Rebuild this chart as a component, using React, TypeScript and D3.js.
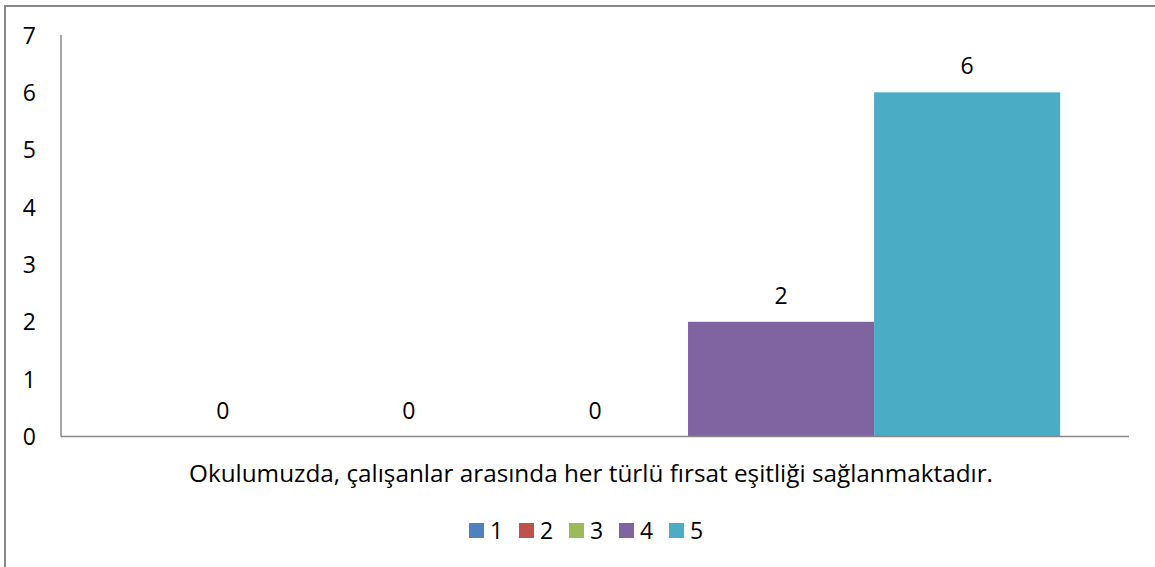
import React from "react";
import * as d3 from "d3";

const seriesNames = ["1", "2", "3", "4", "5"];
const seriesValues = [0, 0, 0, 2, 6];
const seriesColors = ["#4F81BD", "#C0504D", "#9BBB59", "#8064A2", "#4BACC6"];
const yTicks = [0, 1, 2, 3, 4, 5, 6, 7];
const categoryLabel = "Okulumuzda, çalışanlar arasında her türlü fırsat eşitliği sağlanmaktadır.";

const W = 1155;
const H = 567;
const font = "'Open Sans', 'DejaVu Sans', sans-serif";
const fs = 23;

export default function App() {
  const plot = { left: 61, right: 1129, top: 35, bottom: 436.5 };

  const x = d3
    .scaleBand<string>()
    .domain(seriesNames)
    .range([plot.left, plot.right])
    .paddingInner(0)
    .paddingOuter(0.37);

  const y = d3.scaleLinear().domain([0, 7]).range([plot.bottom, plot.top]);

  const legendX = d3.scalePoint<string>().domain(seriesNames).range([469, 669]);

  return (
    <svg
      width={W}
      height={H}
      style={{ position: "absolute", left: 0, top: 0, background: "#fff" }}
      fontFamily={font}
    >
      <rect x={5} y={6} width={W + 20} height={H + 20} fill="#fff" stroke="#898989" strokeWidth={2} />

      {yTicks.map((t) => (
        <text key={t} x={36} y={y(t) + 8.5} textAnchor="end" fontSize={fs} fill="#000">
          {t}
        </text>
      ))}

      {seriesNames.map((s, i) => (
        <rect
          key={s}
          x={x(s)}
          y={y(seriesValues[i])}
          width={x.bandwidth()}
          height={plot.bottom - y(seriesValues[i])}
          fill={seriesColors[i]}
        />
      ))}

      <line x1={plot.left} x2={plot.left} y1={plot.top} y2={plot.bottom} stroke="#898989" strokeWidth={1.5} />
      <line x1={plot.left} x2={plot.right} y1={plot.bottom} y2={plot.bottom} stroke="#898989" strokeWidth={1.5} />

      {seriesNames.map((s, i) => (
        <text
          key={s}
          x={(x(s) ?? 0) + x.bandwidth() / 2}
          y={y(seriesValues[i]) - 18}
          textAnchor="middle"
          fontSize={fs}
          fill="#000"
        >
          {seriesValues[i]}
        </text>
      ))}

      <text x={591} y={482} textAnchor="middle" fontSize={fs} textLength={804} lengthAdjust="spacingAndGlyphs" fill="#000">
        {categoryLabel}
      </text>

      {seriesNames.map((s, i) => (
        <g key={s} transform={`translate(${legendX(s)},523)`}>
          <rect width={15} height={15} fill={seriesColors[i]} />
          <text x={21} y={16} fontSize={fs} fill="#000">
            {s}
          </text>
        </g>
      ))}
    </svg>
  );
}
